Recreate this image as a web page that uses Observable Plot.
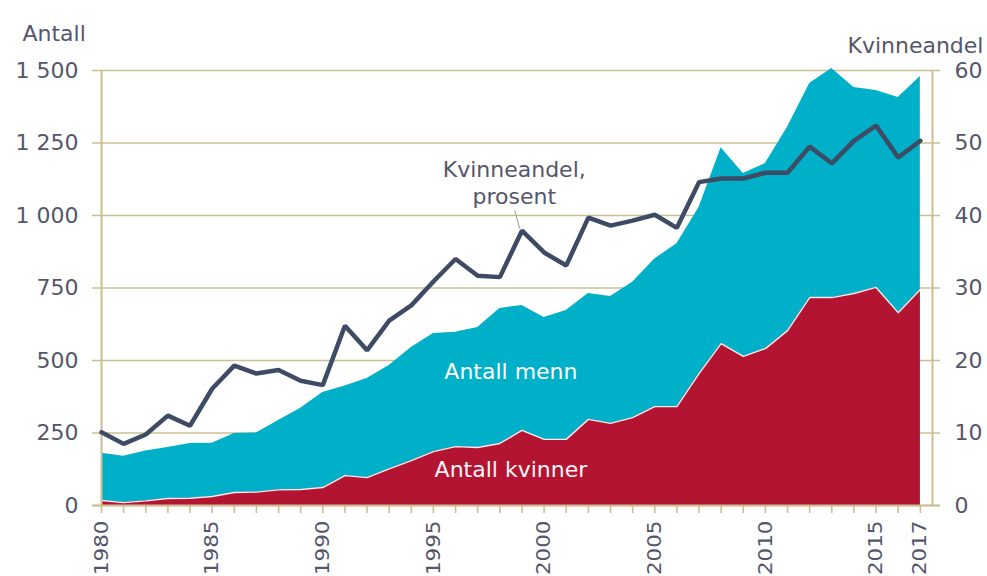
<!DOCTYPE html>
<html><head><meta charset="utf-8">
<script src="https://cdn.jsdelivr.net/npm/d3@7"></script>
<script src="https://cdn.jsdelivr.net/npm/@observablehq/plot@0.6"></script>
<style>body{margin:0;background:#fff}</style>
</head><body><div id="chart"></div>
<script>
const years = [1980,1981,1982,1983,1984,1985,1986,1987,1988,1989,1990,1991,1992,1993,1994,1995,1996,1997,1998,1999,2000,2001,2002,2003,2004,2005,2006,2007,2008,2009,2010,2011,2012,2013,2014,2015,2016,2017];
const total = [180,170,188,200,214,215,248,250,293,335,390,412,438,483,545,593,597,614,679,690,648,672,731,721,770,850,903,1028,1234,1145,1179,1304,1455,1507,1441,1431,1407,1479];
const women = [17,10,16,24,25,31,45,46,54,55,62,103,96,126,155,186,203,200,214,259,228,228,297,283,303,341,341,455,558,514,541,603,717,717,731,752,665,745];
const share = [10.1,8.5,9.8,12.4,11.0,16.1,19.3,18.2,18.7,17.2,16.6,24.8,21.4,25.5,27.6,30.9,34.0,31.7,31.5,37.9,34.9,33.1,39.7,38.6,39.3,40.1,38.3,44.6,45.1,45.1,45.9,45.9,49.5,47.2,50.3,52.4,48.0,50.3];
const yTicks = [0,250,500,750,1000,1250,1500];
const yTickLabels = ["0","250","500","750","1 000","1 250","1 500"];
const shareTicks = [0,10,20,30,40,50,60];
const xLabelYears = [1980,1985,1990,1995,2000,2005,2010,2015,2017];
const xDomain = [1980, 2017.55];
const shareToCount = 1500 / 60;

const data = years.map((y, i) => ({year: y, total: total[i], women: women[i], share: share[i]}));

const gold = "#cbbf91";
const textColor = "#55566b";
const teal = "#00afc8";
const red = "#b31432";
const lineColor = "#3d4b64";

const chart = Plot.plot({
  width: 987,
  height: 576,
  marginLeft: 101,
  marginRight: 55,
  marginTop: 70,
  marginBottom: 71,
  style: {fontFamily: "DejaVu Sans, Verdana, sans-serif", fontSize: "22px", color: textColor, background: "#fff"},
  x: {domain: xDomain},
  y: {domain: [0, 1500]},
  marks: [
    Plot.ruleY(yTicks, {stroke: gold, strokeWidth: 1.6, insetLeft: -9, insetRight: -8}),
    Plot.areaY(data, {x: "year", y: "total", fill: teal}),
    Plot.areaY(data, {x: "year", y: "women", fill: red}),
    Plot.lineY(data, {x: "year", y: "women", stroke: "#ffffff", strokeWidth: 1.4, strokeOpacity: 0.9}),
    Plot.ruleY([0], {stroke: gold, strokeWidth: 2, insetLeft: -9, insetRight: -8}),
    Plot.ruleX([xDomain[0], xDomain[1]], {y1: 0, y2: 1500, stroke: gold, strokeWidth: 2}),
    Plot.lineY(data, {x: "year", y: d => d.share * shareToCount, stroke: lineColor, strokeWidth: 4.5, strokeLinejoin: "miter"}),
    Plot.axisY(yTicks, {anchor: "left", tickSize: 0, tickPadding: 23, tickFormat: d => yTickLabels[yTicks.indexOf(d)], label: null}),
    Plot.axisY(shareTicks.map(d => d * shareToCount), {anchor: "right", tickSize: 0, tickPadding: 22, tickFormat: d => String(d / shareToCount), label: null}),
    Plot.axisX(years, {anchor: "bottom", tickSize: 8, stroke: gold, strokeWidth: 1.6, tickPadding: 7, tickRotate: -90, fontSize: 19, tickFormat: d => xLabelYears.includes(d) ? String(d) : "", label: null}),
    Plot.text(["Antall"], {frameAnchor: "top-left", dx: -79, dy: -45, textAnchor: "start", fill: textColor, fontSize: 22}),
    Plot.text(["Kvinneandel"], {frameAnchor: "top-right", dx: 51, dy: -33, textAnchor: "end", fill: textColor, fontSize: 22}),
    Plot.text(["Antall menn"], {x: 1998.5, y: 459, fill: "#ffffff", fontSize: 22}),
    Plot.text(["Antall kvinner"], {x: 1998.5, y: 121, fill: "#fff4f6", fontSize: 22}),
    Plot.text(["Kvinneandel,\nprosent"], {x: 1998.65, y: 1117, fill: textColor, fontSize: 22, lineHeight: 1.27}),
    Plot.link([{x1: 1998.67, y1: 1017, x2: 1998.9, y2: 955}], {x1: "x1", y1: "y1", x2: "x2", y2: "y2", stroke: "#999999", strokeWidth: 1})
  ]
});
document.getElementById("chart").appendChild(chart);
chart.querySelectorAll('g[aria-label="x-axis tick label"] text').forEach(t => {
  const tr = t.getAttribute("transform");
  if (tr) t.setAttribute("transform", tr + " scale(1.13,1)");
});
</script>
</body></html>
